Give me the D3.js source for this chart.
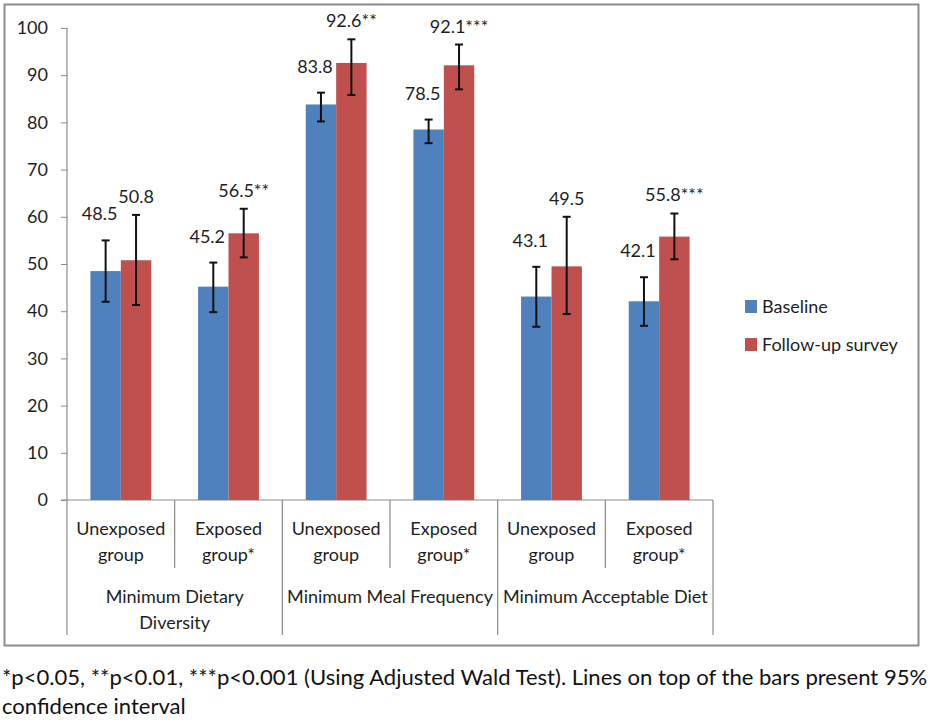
<!DOCTYPE html>
<html>
<head>
<meta charset="utf-8">
<script src="https://cdn.jsdelivr.net/npm/d3@7"></script>
<style>
  body { margin: 0; background: #fff; }
  text { font-family: Lato, "Noto Sans", sans-serif; fill: #1e1e1e; }
</style>
</head>
<body>
<div id="chart"></div>
<script>
// data
var categories = [ [ 'Minimum Dietary', 'Diversity' ], [ 'Minimum Meal Frequency' ], [ 'Minimum Acceptable Diet' ] ];
var groups = [ [ 'Unexposed', 'group' ], [ 'Exposed', 'group*' ] ];
var series = [ 'Baseline', 'Follow-up survey' ];
var colors = [ '#4f81bd', '#c0504d' ];

var baseline     = [ 48.5, 45.2, 83.8, 78.5, 43.1, 42.1 ];
var baselineLow  = [ 42.0, 39.8, 80.2, 75.6, 36.7, 36.9 ];
var baselineHigh = [ 55.0, 50.3, 86.3, 80.6, 49.4, 47.2 ];
var baselineLabels = [ '48.5', '45.2', '83.8', '78.5', '43.1', '42.1' ];

var followUp     = [ 50.8, 56.5, 92.6, 92.1, 49.5, 55.8 ];
var followUpLow  = [ 41.3, 51.4, 85.8, 87.0, 39.4, 51.0 ];
var followUpHigh = [ 60.4, 61.7, 97.6, 96.5, 60.0, 60.7 ];
var followUpLabels = [ '50.8', '56.5**', '92.6**', '92.1***', '49.5', '55.8***' ];

var yTicks = [ 0, 10, 20, 30, 40, 50, 60, 70, 80, 90, 100 ];

var footnote = [
    '*p<0.05, **p<0.01, ***p<0.001 (Using Adjusted Wald Test). Lines on top of the bars present 95%',
    'confidence interval'
];

// layout
var width = 935;
var height = 723;
var plot = { left: 67, right: 713, top: 28, bottom: 500 };
var axisColor = '#8a8a8a';

var svg = d3.select( '#chart' )
            .append( 'svg' )
            .attr( 'width', width )
            .attr( 'height', height );

// frame
svg.append( 'rect' )
   .attr( 'x', 4.5 )
   .attr( 'y', 4.5 )
   .attr( 'width', 914 )
   .attr( 'height', 641 )
   .attr( 'fill', 'none' )
   .attr( 'stroke', '#8c8c8c' )
   .attr( 'stroke-width', 2 );

// build rows
var rows = [];
for( var i = 0; i < baseline.length; i++ ) {
    rows.push( {
        index: i,
        group: groups[ i % groups.length ],
        values: [
            { s: 0, v: baseline[ i ], lo: baselineLow[ i ], hi: baselineHigh[ i ], label: baselineLabels[ i ] },
            { s: 1, v: followUp[ i ], lo: followUpLow[ i ], hi: followUpHigh[ i ], label: followUpLabels[ i ] }
        ]
    } );
}

// scales
var y = d3.scaleLinear()
          .domain( [ 0, 100 ] )
          .range( [ plot.bottom, plot.top ] );

var x = d3.scaleBand()
          .domain( d3.range( rows.length ) )
          .range( [ plot.left, plot.right ] )
          .padding( 0 );

var xInner = d3.scaleBand()
               .domain( [ 0, 1 ] )
               .range( [ 0, x.bandwidth() ] )
               .paddingInner( 0 )
               .paddingOuter( 0.77 );

var xCat = d3.scaleBand()
             .domain( d3.range( categories.length ) )
             .range( [ plot.left, plot.right ] );

// y axis
var yAxis = svg.append( 'g' )
               .attr( 'transform', 'translate(' + plot.left + ',0)' )
               .call( d3.axisLeft( y ).tickValues( yTicks ).tickSize( 6 ).tickPadding( 13 ) );
yAxis.select( '.domain' ).remove();
yAxis.selectAll( '.tick line' ).attr( 'stroke', axisColor );
yAxis.selectAll( '.tick text' )
     .style( 'font-family', 'Lato, sans-serif' )
     .style( 'font-size', '18px' )
     .attr( 'fill', '#1e1e1e' );

// axis lines and category box
var lines = svg.append( 'g' )
               .attr( 'stroke', axisColor )
               .attr( 'stroke-width', 1.2 );

lines.append( 'line' )
     .attr( 'x1', plot.left ).attr( 'x2', plot.left )
     .attr( 'y1', plot.top ).attr( 'y2', 635 );

lines.append( 'line' )
     .attr( 'x1', plot.left - 6 ).attr( 'x2', plot.right )
     .attr( 'y1', plot.bottom ).attr( 'y2', plot.bottom );

// category separators
lines.selectAll( '.cat' )
     .data( d3.range( 1, categories.length + 1 ) )
     .enter()
     .append( 'line' )
     .attr( 'x1', function( d ) { return xCat( d - 1 ) + xCat.bandwidth(); } )
     .attr( 'x2', function( d ) { return xCat( d - 1 ) + xCat.bandwidth(); } )
     .attr( 'y1', plot.bottom )
     .attr( 'y2', 635 );

// group separators
lines.selectAll( '.grp' )
     .data( d3.range( 0, rows.length, 2 ) )
     .enter()
     .append( 'line' )
     .attr( 'x1', function( d ) { return x( d ) + x.bandwidth(); } )
     .attr( 'x2', function( d ) { return x( d ) + x.bandwidth(); } )
     .attr( 'y1', plot.bottom )
     .attr( 'y2', 568 );

// group labels
var groupText = svg.selectAll( '.group-label' )
                   .data( rows )
                   .enter()
                   .append( 'text' )
                   .attr( 'class', 'group-label' )
                   .attr( 'text-anchor', 'middle' )
                   .style( 'font-size', '18px' );
groupText.each( function( d ) {
    var t = d3.select( this );
    d.group.forEach( function( line, j ) {
        t.append( 'tspan' )
         .attr( 'x', x( d.index ) + x.bandwidth() / 2 )
         .attr( 'y', 535 + j * 26 )
         .text( line );
    } );
} );

// category labels
var catText = svg.selectAll( '.cat-label' )
                 .data( categories )
                 .enter()
                 .append( 'text' )
                 .attr( 'class', 'cat-label' )
                 .attr( 'text-anchor', 'middle' )
                 .style( 'font-size', '18px' );
catText.each( function( d, i ) {
    var t = d3.select( this );
    d.forEach( function( line, j ) {
        t.append( 'tspan' )
         .attr( 'x', xCat( i ) + xCat.bandwidth() / 2 )
         .attr( 'y', 603 + j * 26 )
         .text( line );
    } );
} );

// bars
var groupSel = svg.selectAll( '.bars' )
                  .data( rows )
                  .enter()
                  .append( 'g' )
                  .attr( 'transform', function( d ) { return 'translate(' + x( d.index ) + ',0)'; } );

groupSel.selectAll( 'rect' )
        .data( function( d ) { return d.values; } )
        .enter()
        .append( 'rect' )
        .attr( 'x', function( d ) { return xInner( d.s ); } )
        .attr( 'y', function( d ) { return y( d.v ); } )
        .attr( 'width', xInner.bandwidth() )
        .attr( 'height', function( d ) { return y( 0 ) - y( d.v ); } )
        .attr( 'fill', function( d ) { return colors[ d.s ]; } );

// error bars
var capWidth = 8;
var err = groupSel.selectAll( '.err' )
                  .data( function( d ) { return d.values; } )
                  .enter()
                  .append( 'g' )
                  .attr( 'stroke', '#111' )
                  .attr( 'stroke-width', 2 );

err.append( 'line' )
   .attr( 'x1', function( d ) { return xInner( d.s ) + xInner.bandwidth() / 2; } )
   .attr( 'x2', function( d ) { return xInner( d.s ) + xInner.bandwidth() / 2; } )
   .attr( 'y1', function( d ) { return y( d.lo ); } )
   .attr( 'y2', function( d ) { return y( d.hi ); } );

[ 'lo', 'hi' ].forEach( function( key ) {
    err.append( 'line' )
       .attr( 'x1', function( d ) { return xInner( d.s ) + xInner.bandwidth() / 2 - capWidth / 2; } )
       .attr( 'x2', function( d ) { return xInner( d.s ) + xInner.bandwidth() / 2 + capWidth / 2; } )
       .attr( 'y1', function( d ) { return y( d[ key ] ); } )
       .attr( 'y2', function( d ) { return y( d[ key ] ); } );
} );

// value labels
groupSel.selectAll( '.val' )
        .data( function( d ) { return d.values; } )
        .enter()
        .append( 'text' )
        .attr( 'text-anchor', 'middle' )
        .attr( 'x', function( d ) { return xInner( d.s ) + xInner.bandwidth() / 2 + ( d.s == 0 ? -6 : 0 ); } )
        .attr( 'y', function( d ) { return y( d.hi ) - ( d.s == 0 ? 20 : 12 ); } )
        .style( 'font-size', '18px' )
        .text( function( d ) { return d.label; } );

// legend
var legend = svg.selectAll( '.legend' )
                .data( series )
                .enter()
                .append( 'g' )
                .attr( 'transform', function( d, i ) { return 'translate(745,' + ( 300 + i * 38 ) + ')'; } );

legend.append( 'rect' )
      .attr( 'width', 12 )
      .attr( 'height', 13 )
      .attr( 'fill', function( d, i ) { return colors[ i ]; } );

legend.append( 'text' )
      .attr( 'x', 17 )
      .attr( 'y', 13 )
      .style( 'font-size', '18px' )
      .text( function( d ) { return d; } );

// footnote, sized so the first line spans the page width
var foot = svg.selectAll( '.foot' )
              .data( footnote )
              .enter()
              .append( 'text' )
              .attr( 'x', 2 )
              .attr( 'y', function( d, i ) { return 685 + i * 29; } )
              .style( 'font-size', '19px' )
              .style( 'fill', '#111' )
              .text( function( d ) { return d; } );

var footLen = foot.node().getComputedTextLength();
var footSize = Math.min( 24, 19 * 926 / footLen );
foot.style( 'font-size', footSize + 'px' );
</script>
</body>
</html>
